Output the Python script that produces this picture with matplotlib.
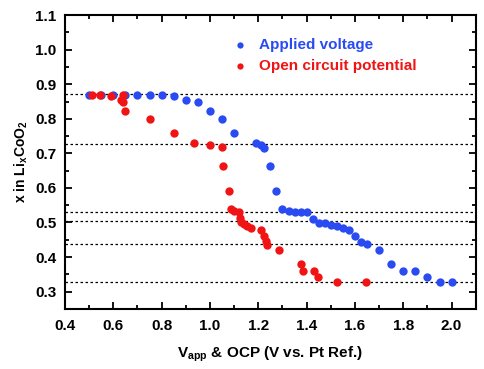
import matplotlib
matplotlib.use("Agg")
import matplotlib.pyplot as plt
from matplotlib.ticker import MultipleLocator

plt.rcParams["font.family"] = ["Liberation Sans", "DejaVu Sans"]
plt.rcParams["font.weight"] = "bold"
plt.rcParams["mathtext.fontset"] = "custom"
plt.rcParams["mathtext.rm"] = "Liberation Sans:bold"
plt.rcParams["mathtext.bf"] = "Liberation Sans:bold"
plt.rcParams["mathtext.default"] = "bf"

# Applied voltage (blue)
applied_v = [0.5, 0.55, 0.6, 0.65, 0.7, 0.75, 0.8, 0.85, 0.9, 0.95,
             1.0, 1.05, 1.1, 1.19, 1.21, 1.225, 1.25, 1.275, 1.3, 1.325,
             1.35, 1.375, 1.4, 1.425, 1.45, 1.475, 1.5, 1.525, 1.55, 1.575,
             1.6, 1.625, 1.65, 1.7, 1.75, 1.8, 1.85, 1.9, 1.95, 2.0]
applied_x = [0.87, 0.87, 0.87, 0.87, 0.87, 0.87, 0.87, 0.867, 0.855, 0.848,
             0.824, 0.799, 0.758, 0.729, 0.723, 0.716, 0.663, 0.591, 0.538, 0.534,
             0.53, 0.53, 0.53, 0.511, 0.499, 0.499, 0.494, 0.491, 0.483, 0.479,
             0.462, 0.444, 0.437, 0.42, 0.381, 0.36, 0.36, 0.342, 0.328, 0.328]

# Open circuit potential (red)
ocp_v = [0.51, 0.545, 0.59, 0.64, 0.63, 0.64, 0.65, 0.75, 0.85, 0.935,
         1.0, 1.05, 1.055, 1.08, 1.087, 1.10, 1.12, 1.125, 1.13, 1.14,
         1.155, 1.17, 1.21, 1.225, 1.23, 1.235, 1.285, 1.375, 1.385, 1.43,
         1.445, 1.525, 1.645]
ocp_x = [0.87, 0.87, 0.867, 0.87, 0.855, 0.848, 0.824, 0.799, 0.758, 0.729,
         0.724, 0.717, 0.663, 0.591, 0.538, 0.533, 0.53, 0.512, 0.50, 0.495,
         0.49, 0.483, 0.479, 0.462, 0.446, 0.435, 0.421, 0.381, 0.36, 0.36,
         0.342, 0.328, 0.328]

# reference levels (dotted lines)
levels = [0.873, 0.726, 0.53, 0.504, 0.437, 0.329]

blue = "#2a4bf2"
red = "#f01414"

fig = plt.figure(figsize=(4.85, 3.69), dpi=100)
ax = fig.add_axes([0.134, 0.163, 0.847, 0.796])

for lv in levels:
    ax.axhline(lv, color="black", linestyle=(0, (2, 2)), linewidth=0.9, zorder=1)

ax.scatter(applied_v, applied_x, s=36, color=blue, zorder=3,
           label="Applied voltage", linewidths=0)
ax.scatter(ocp_v, ocp_x, s=36, color=red, zorder=4,
           label="Open circuit potential", linewidths=0)

ax.set_xlim(0.4, 2.1)
ax.set_ylim(0.25, 1.1)
ax.xaxis.set_major_locator(MultipleLocator(0.2))
ax.xaxis.set_minor_locator(MultipleLocator(0.1))
ax.yaxis.set_major_locator(MultipleLocator(0.1))
ax.yaxis.set_minor_locator(MultipleLocator(0.05))

ax.tick_params(which="both", direction="in", top=True, right=True,
               width=1.3, labelsize=11)
ax.tick_params(which="major", length=5)
ax.tick_params(axis="x", which="major", pad=7)
ax.tick_params(axis="y", which="major", pad=6)
ax.tick_params(which="minor", length=3)
for sp in ax.spines.values():
    sp.set_linewidth(1.5)

for lab in ax.get_xticklabels() + ax.get_yticklabels():
    lab.set_fontweight("bold")

ax.set_xlabel(r"V$_{app}$ & OCP (V vs. Pt Ref.)", fontsize=11,
              fontweight="bold", labelpad=9)
ax.set_ylabel(r"x in Li$_x$CoO$_2$", fontsize=10, fontweight="bold",
              labelpad=4)

leg = ax.legend(loc="upper left", bbox_to_anchor=(0.393, 0.942), frameon=False,
                markerscale=0.75, handlelength=1.0, handletextpad=0.72,
                labelspacing=0.45, prop={"size": 11, "weight": "bold"},
                borderaxespad=0)
for txt, col in zip(leg.get_texts(), [blue, red]):
    txt.set_color(col)

fig.savefig("out.png", dpi=100)
